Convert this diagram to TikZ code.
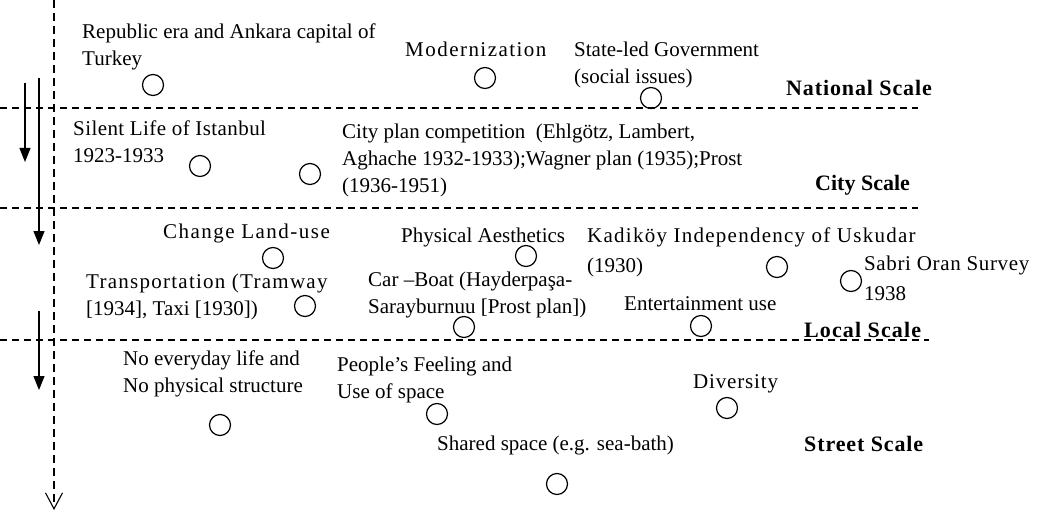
\documentclass[tikz,border=0pt]{standalone}
\usepackage{fontspec}
\setmainfont{Liberation Serif}
\usetikzlibrary{arrows.meta}
\newcommand\txtfont{\fontsize{21}{27}\selectfont}
\newcommand\sclfont{\fontsize{22}{26}\selectfont\bfseries}
\newcommand\lsp[1]{\addfontfeature{LetterSpace=#1}}
\begin{document}
\begin{tikzpicture}[x=1pt,y=-1pt,
  lbl/.style={anchor=base west, inner sep=0pt, align=left, font=\txtfont},
  scl/.style={anchor=base west, inner sep=0pt, font=\sclfont},
  dot/.style={circle, draw, minimum size=21pt, inner sep=0pt, line width=1.2pt},
  sep/.style={line width=1.1pt, dash pattern=on 7pt off 5pt},
  down/.style={line width=1.2pt, -{Triangle[length=14pt,width=11pt]}},
]
\useasboundingbox[fill=white] (0,0) rectangle (1045,516);

% axis
\coordinate (axT) at (54,0);
\coordinate (axB) at (54,510);
\draw[line width=1.1pt, dash pattern=on 8pt off 5pt, -{Straight Barb[length=16pt,width=17pt,line width=1.1pt]}] (axT) -- (axB);

% separators
\coordinate (s1a) at (0,108); \coordinate (s1b) at (918,108);
\coordinate (s2a) at (0,208); \coordinate (s2b) at (918,208);
\coordinate (s3a) at (0,340); \coordinate (s3b) at (929,340);
\draw[sep] (s1a) -- (s1b);
\draw[sep] (s2a) -- (s2b);
\draw[sep] (s3a) -- (s3b);

% left arrows
\coordinate (a1s) at (25,83);  \coordinate (a1e) at (25,162);
\coordinate (a2s) at (39,78);  \coordinate (a2e) at (39,245);
\coordinate (a3s) at (39,311); \coordinate (a3e) at (39,390);
\draw[down] (a1s) -- (a1e);
\draw[down] (a2s) -- (a2e);
\draw[down] (a3s) -- (a3e);

% National scale (multi-line nodes: base = last line)
\node[lbl] (t1) at (82,66) {Republic era and Ankara capital of\\Turkey};
\node[lbl] (t2) at (405,57) {\lsp{7}Modernization};
\node[lbl] (t3) at (574,84) {State-led Government\\(social issues)};
\node[scl] (n1) at (786,96) {\lsp{4}National Scale};
\node[dot] (c1) at (153,85) {};
\node[dot] (c2) at (485,78) {};
\node[dot] (c3) at (651,98) {};

% City scale
\node[lbl] (t4) at (73,163) {\lsp{2}Silent Life of Istanbul\\1923-1933};
\node[lbl] (t5) at (342,193) {City plan competition~ (Ehlgötz, Lambert,\\Aghache 1932-1933);Wagner plan (1935);Prost\\(1936-1951)};
\node[scl] (n2) at (815,190) {City Scale};
\node[dot] (c4) at (200,166) {};
\node[dot] (c5) at (310,174) {};

% Local scale
\node[lbl] (t6) at (163,239) {\lsp{7}Change Land-use};
\node[lbl] (t7) at (401,243) {Physical Aesthetics};
\node[lbl, font=\fontsize{21}{30}\selectfont] (t8) at (587,272) {\lsp{6}Kadiköy Independency of Uskudar\\(1930)};
\node[lbl, font=\fontsize{21}{30}\selectfont] (t9) at (864,300) {\lsp{3}Sabri Oran Survey\\1938};
\node[lbl] (t10) at (86,315) {\lsp{6}Transportation (Tramway\\{}[1934], Taxi [1930])};
\node[lbl] (t11) at (368,313) {Car –Boat (Hayderpaşa-\\Sarayburnuu [Prost plan])};
\node[lbl] (t12) at (624,310) {Entertainment use};
\node[scl] (n3) at (804,337) {\lsp{5}Local Scale};
\node[dot] (c6) at (273,258) {};
\node[dot] (c7) at (305,306) {};
\node[dot] (c8) at (526,256) {};
\node[dot] (c9) at (464,327) {};
\node[dot] (c10) at (777,267) {};
\node[dot] (c11) at (851,281) {};
\node[dot] (c12) at (701,326) {};

% Street scale
\node[lbl] (t13) at (123,392) {No everyday life and\\No physical structure};
\node[lbl] (t14) at (337,398) {People's Feeling and\\Use of space};
\node[lbl] (t15) at (693,388) {\lsp{4}Diversity};
\node[lbl] (t16) at (437,450) {Shared space (e.g. sea-bath)};
\node[scl] (n4) at (804,451) {\lsp{4}Street Scale};
\node[dot] (c13) at (220,425) {};
\node[dot] (c14) at (437,414) {};
\node[dot] (c15) at (727,408) {};
\node[dot] (c16) at (557,484) {};
\end{tikzpicture}
\end{document}
